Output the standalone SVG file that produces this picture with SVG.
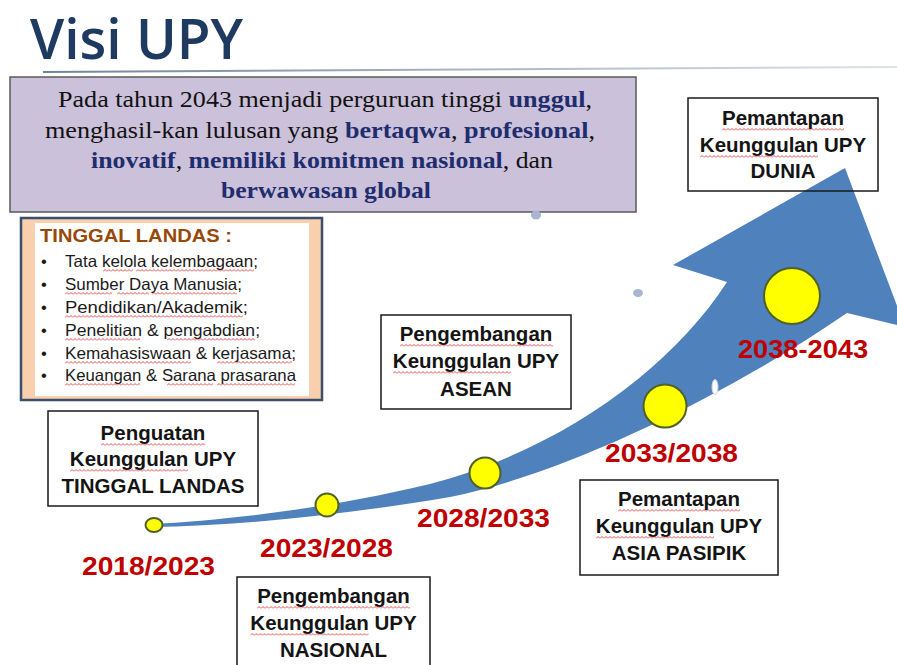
<svg xmlns="http://www.w3.org/2000/svg" width="897" height="665" viewBox="0 0 897 665">
<style>
.sans{font-family:"Liberation Sans",Arial,sans-serif}
.serif{font-family:"Liberation Serif","Times New Roman",serif}
.box{fill:#ffffff;stroke:#1a1a1a;stroke-width:1.5}
.boxline{fill:none;stroke:#1a1a1a;stroke-width:1.5}
.btxt{font-family:"Liberation Sans",Arial,sans-serif;font-weight:bold;font-size:20.5px;fill:#141414;text-anchor:middle}
.yr{font-family:"Liberation Sans",Arial,sans-serif;font-weight:bold;font-size:26px;fill:#c00000}
.dot{fill:#ffff00;stroke:#4e6128;stroke-width:2}
.li{font-family:"Liberation Sans",Arial,sans-serif;font-size:16.5px;fill:#1a1a1a}
.em{font-weight:bold;fill:#1f2d6e}
.speck{fill:#a9b6d2}
</style>
<defs>
<pattern id="sq" width="4" height="3" patternUnits="userSpaceOnUse">
<path d="M0 2.5 L2 0.5 L4 2.5" fill="none" stroke="#e02020" stroke-width="0.8"/>
</pattern>
<linearGradient id="rule" x1="0" y1="0" x2="1" y2="0">
<stop offset="0" stop-color="#6f8399"/>
<stop offset="0.5" stop-color="#a9b5c2"/>
<stop offset="1" stop-color="#dde2e8"/>
</linearGradient>
</defs>
<rect width="897" height="665" fill="#ffffff"/>

<g id="title">
<text x="30" y="59" font-family="'Open Sans','Liberation Sans',sans-serif" font-weight="600" font-size="56" fill="#1f3a60" textLength="213" lengthAdjust="spacingAndGlyphs">Visi UPY</text>
<line x1="43" y1="72" x2="897" y2="67" stroke="url(#rule)" stroke-width="2"/>
</g>

<g id="visi">
<rect x="10" y="77" width="626" height="135" fill="#ccc1da" stroke="#595959" stroke-width="1.5"/>
<text class="serif" x="325" y="107" font-size="23" fill="#111" text-anchor="middle" textLength="534" lengthAdjust="spacingAndGlyphs">Pada tahun 2043 menjadi perguruan tinggi <tspan class="em">unggul</tspan>,</text>
<text class="serif" x="320" y="137.5" font-size="23" fill="#111" text-anchor="middle" textLength="550" lengthAdjust="spacingAndGlyphs">menghasil-kan lulusan yang <tspan class="em">bertaqwa</tspan>, <tspan class="em">profesional</tspan>,</text>
<text class="serif" x="322" y="167.5" font-size="23" fill="#111" text-anchor="middle" textLength="462" lengthAdjust="spacingAndGlyphs"><tspan class="em">inovatif</tspan>, <tspan class="em">memiliki komitmen nasional</tspan>, dan</text>
<text class="serif em" x="326" y="198" font-size="23" text-anchor="middle" textLength="210" lengthAdjust="spacingAndGlyphs">berwawasan global</text>
</g>

<g id="specks">
<ellipse class="speck" cx="536" cy="215" rx="5" ry="4.5"/>
<ellipse class="speck" cx="285" cy="292" rx="4" ry="3.5"/>
<ellipse class="speck" cx="638" cy="293" rx="5" ry="4"/>
</g>

<g id="tinggal-landas">
<rect x="21" y="218" width="301" height="182" fill="#f9cfae" stroke="#3b4f6b" stroke-width="2.5"/>
<rect x="35" y="223" width="274" height="173" fill="#ffffff"/>
<text class="sans" x="40" y="242" font-size="18" font-weight="bold" fill="#984807" textLength="192" lengthAdjust="spacingAndGlyphs">TINGGAL LANDAS :</text>
<g class="li">
<text x="41" y="267">•</text><text x="65" y="267" textLength="193" lengthAdjust="spacingAndGlyphs">Tata kelola kelembagaan;</text>
<text x="41" y="290">•</text><text x="65" y="290" textLength="177" lengthAdjust="spacingAndGlyphs">Sumber Daya Manusia;</text>
<text x="41" y="313">•</text><text x="65" y="313" textLength="183" lengthAdjust="spacingAndGlyphs">Pendidikan/Akademik;</text>
<text x="41" y="336">•</text><text x="65" y="336" textLength="195" lengthAdjust="spacingAndGlyphs">Penelitian &amp; pengabdian;</text>
<text x="41" y="359">•</text><text x="65" y="359" textLength="231" lengthAdjust="spacingAndGlyphs">Kemahasiswaan &amp; kerjasama;</text>
<text x="41" y="381">•</text><text x="65" y="381" textLength="231" lengthAdjust="spacingAndGlyphs">Keuangan &amp; Sarana prasarana</text>
</g>
<g fill="url(#sq)">
<rect transform="translate(103,269)" width="30" height="3"/>
<rect transform="translate(136,269)" width="118" height="3"/>
<rect transform="translate(65,292)" width="47" height="3"/>
<rect transform="translate(117,292)" width="32" height="3"/>
<rect transform="translate(152,292)" width="85" height="3"/>
<rect transform="translate(65,315)" width="178" height="3"/>
<rect transform="translate(65,338)" width="75" height="3"/>
<rect transform="translate(167,338)" width="88" height="3"/>
<rect transform="translate(65,361)" width="126" height="3"/>
<rect transform="translate(217,361)" width="75" height="3"/>
<rect transform="translate(65,383)" width="75" height="3"/>
<rect transform="translate(167,383)" width="46" height="3"/>
<rect transform="translate(217,383)" width="78" height="3"/>
</g>
</g>

<g id="connectors">
<path d="M727 282 C670 370 560 450 430 484 C330 508 230 520 150 524 L150 527 C250 526 360 512 450 497 C560 475 720 400 847 313 L905 327 L845 168 L673 265 Z" fill="#4f81bd"/>
<ellipse cx="715" cy="387" rx="3" ry="7.5" fill="#ffffff" stroke="#c8d2e2" stroke-width="1"/>
</g>

<g id="m2018">
<ellipse class="dot" cx="154" cy="525" rx="8.5" ry="7"/>
<text class="yr" x="82" y="575" textLength="133" lengthAdjust="spacingAndGlyphs">2018/2023</text>
</g>
<g id="m2023">
<circle class="dot" cx="327" cy="505" r="11.5"/>
<text class="yr" x="260" y="557" textLength="133" lengthAdjust="spacingAndGlyphs">2023/2028</text>
</g>
<g id="m2028">
<circle class="dot" cx="485" cy="473" r="15.5"/>
<text class="yr" x="417" y="527" textLength="133" lengthAdjust="spacingAndGlyphs">2028/2033</text>
</g>
<g id="m2033">
<circle class="dot" cx="665" cy="406" r="21.5"/>
<text class="yr" x="605" y="462" textLength="133" lengthAdjust="spacingAndGlyphs">2033/2038</text>
</g>
<g id="m2038">
<circle class="dot" cx="792" cy="296" r="28"/>
<text class="yr" x="738" y="358" textLength="130" lengthAdjust="spacingAndGlyphs">2038-2043</text>
</g>

<g id="box-tinggal-landas">
<rect class="box" x="48" y="411" width="210" height="95"/>
<text class="btxt" x="153" y="440">Penguatan</text>
<text class="btxt" x="153" y="466">Keunggulan UPY</text>
<text class="btxt" x="153" y="493">TINGGAL LANDAS</text>
<rect transform="translate(101,443)" width="104" height="3" fill="url(#sq)"/>
<rect transform="translate(70,469)" width="118" height="3" fill="url(#sq)"/>
</g>

<g id="box-nasional">
<rect class="box" x="237" y="577" width="193" height="95"/>
<text class="btxt" x="333.5" y="603">Pengembangan</text>
<text class="btxt" x="333.5" y="630">Keunggulan UPY</text>
<text class="btxt" x="333.5" y="657">NASIONAL</text>
<rect transform="translate(257,606)" width="153" height="3" fill="url(#sq)"/>
<rect transform="translate(250.5,633)" width="118" height="3" fill="url(#sq)"/>
</g>

<g id="box-asean">
<rect class="box" x="381" y="315" width="190" height="94"/>
<text class="btxt" x="476" y="341">Pengembangan</text>
<text class="btxt" x="476" y="368">Keunggulan UPY</text>
<text class="btxt" x="476" y="396">ASEAN</text>
<rect transform="translate(400,344)" width="153" height="3" fill="url(#sq)"/>
<rect transform="translate(393,371)" width="118" height="3" fill="url(#sq)"/>
</g>

<g id="box-asia-pasipik">
<rect class="box" x="580" y="480" width="198" height="95"/>
<text class="btxt" x="679" y="506">Pemantapan</text>
<text class="btxt" x="679" y="533">Keunggulan UPY</text>
<text class="btxt" x="679" y="560">ASIA PASIPIK</text>
<rect transform="translate(618,509)" width="122" height="3" fill="url(#sq)"/>
<rect transform="translate(596,536)" width="118" height="3" fill="url(#sq)"/>
</g>

<g id="box-dunia">
<rect class="boxline" x="688" y="98" width="190" height="93"/>
<text class="btxt" x="783" y="125">Pemantapan</text>
<text class="btxt" x="783" y="152">Keunggulan UPY</text>
<text class="btxt" x="783" y="178">DUNIA</text>
<rect transform="translate(722,128)" width="122" height="3" fill="url(#sq)"/>
<rect transform="translate(700,155)" width="118" height="3" fill="url(#sq)"/>
</g>
</svg>
